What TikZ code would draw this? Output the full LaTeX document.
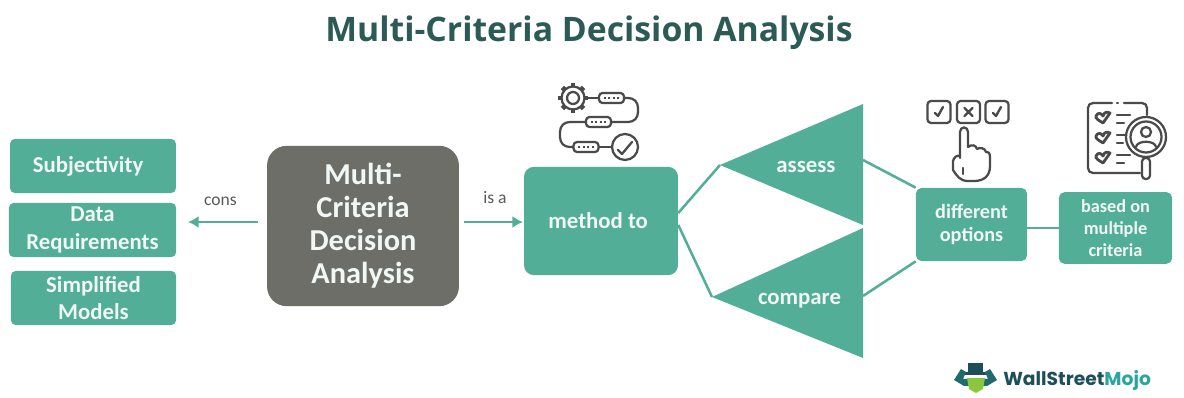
\documentclass[tikz,border=0pt]{standalone}
\usepackage{fontspec}
\setmainfont{Carlito}
\newfontfamily\titlefont{Open Sans}
\newfontfamily\logofont{Poppins}
\definecolor{teal1}{HTML}{53AE98}
\definecolor{gray1}{HTML}{6E6E68}
\definecolor{ink1}{HTML}{4A4A4A}
\definecolor{title1}{HTML}{2C5A55}
\definecolor{text1}{HTML}{F0F7F4}
\definecolor{logo1}{HTML}{1D4F5A}
\definecolor{logo2}{HTML}{2AA5A0}
\definecolor{logo3}{HTML}{8CC63F}
\tikzset{
	box/.style={fill=teal1,rounded corners=3.5pt,inner sep=0pt,align=center,text=text1,font=\fontsize{16.2}{19.7}\selectfont\bfseries},
	wire/.style={draw=teal1,line width=1.8pt},
	tip/.style={wire,line width=2pt,-{Latex[length=7.5pt,width=8.5pt]}},
	tag/.style={inner sep=0pt,text=gray!70!black,font=\fontsize{12.5}{14}\selectfont},
	tri/.style={fill=teal1},
	ink/.style={draw=ink1,line width=1.6pt,line cap=round,line join=round,fill=none},
	pill/.style={ink,rounded corners=2.5pt},
}
\usetikzlibrary{arrows.meta}
\begin{document}
\begin{tikzpicture}[x=0.025cm,y=-0.025cm]
	\useasboundingbox (0,0) rectangle (1184,398);
	\node[text=title1,inner sep=0pt,font=\titlefont\fontsize{24}{28}\selectfont\bfseries] (title) at (589,33) {Multi-Criteria Decision Analysis};

	% left column
	\node[box,minimum width=118pt,minimum height=38.5pt] (subj) at (93,166) {\raisebox{-3.5pt}{Subjectivity}\hspace*{7pt}};
	\node[box,minimum width=119pt,minimum height=38.5pt] (data) at (92.5,230) {Data\\Requirements};
	\node[box,minimum width=117.5pt,minimum height=38.5pt] (simp) at (93.5,298) {Simplified\\Models};

	\node[box,fill=gray1,rounded corners=14pt,minimum width=136.5pt,minimum height=114pt,font=\fontsize{21.6}{23.5}\selectfont\bfseries] (mcda) at (363,226) {Multi-\\Criteria\\Decision\\Analysis};
	\node[box,rounded corners=7pt,minimum width=109.5pt,minimum height=77pt,font=\fontsize{16.2}{19}\selectfont\bfseries] (method) at (601,221) {\raisebox{-1pt}{method to}\hspace*{4pt}};

	\coordinate (gapl) at (188,222);
	\coordinate (gapr) at (523,222);
	\draw[tip] (258,222) -- (gapl);
	\draw[tip] (464,222) -- (gapr);
	\node[tag] (cons) at (220.5,201) {cons};
	\node[tag] (isa) at (495,198) {is a};

	% triangles
	\coordinate (a1) at (720,165);
	\coordinate (c1) at (712,297);
	\fill[tri] (a1) -- (863,104) -- (863,225) -- cycle;
	\fill[tri] (c1) -- (863,228) -- (863,358) -- cycle;
	\node[box,fill=none] (assess) at (806,167) {assess};
	\node[box,fill=none] (compare) at (799.5,301) {compare};

	\node[box,rounded corners=4pt,minimum width=79pt,minimum height=52pt,font=\fontsize{14.4}{17}\selectfont\bfseries] (options) at (971.5,224.5) {\raisebox{-1.5pt}{different}\\\raisebox{-1.5pt}{options}};
	\node[box,rounded corners=4pt,minimum width=80.5pt,minimum height=51pt,font=\fontsize{13}{15.6}\selectfont\bfseries] (based) at (1115.5,228) {based on\\multiple\\criteria};

	\draw[wire] (method.east) ++(0,-8) -- (a1);
	\draw[wire] (method.east) ++(0,4) -- (c1);
	\draw[wire] (863,160) -- (options.north west);
	\draw[wire] (863,296) -- (options.south west);
	\draw[wire] (options.east |- based.center) -- (based.west);

	% process icon
	\foreach \px/\py in {611.5/98,598.5/122,586/147}
		\draw[pill] (\px-12.5,\py-5) rectangle (\px+12.5,\py+5);
	\foreach \px/\py in {611.5/98,598.5/122,586/147}
		\foreach \d in {-7,-2.5,2,6.5}
			\fill[ink1] (\px+\d-1,\py-1) rectangle (\px+\d+1,\py+1);
	\foreach \a in {0,45,...,315}
		\draw[ink1,line width=3.5pt] (573,98) ++(\a:11) -- ++(\a:4);
	\draw[ink,fill=white] (573,98) circle (11.5);
	\draw[ink] (573,98) circle (6);
	\draw[ink] (588,98) -- (599,98);
	\draw[ink] (624,98) -- (628,98) .. controls (634,98) and (638,102) .. (638,108) -- (638,112) .. controls (638,118) and (634,122) .. (628,122) -- (611,122);
	\draw[ink] (586,122) -- (570,122) .. controls (564,122) and (560,126) .. (560,132) -- (560,137) .. controls (560,143) and (564,147) .. (570,147) -- (573,147);
	\draw[ink] (599,147) -- (612,147);
	\draw[ink] (625,147) circle (13);
	\draw[ink] (618,150) -- (622,154) -- (632,142);

	% choice icon
	\foreach \px in {939,968.5,997}
		\draw[pill] (\px-11.5,101) rectangle (\px+11.5,123);
	\foreach \px in {939,997}
		\draw[ink,line width=1.7pt] (\px-4,113) -- (\px-1,116) -- (\px+4,107);
	\draw[ink,line width=1.7pt] (964.5,108) -- (972.5,116) (972.5,108) -- (964.5,116);
	\draw[ink] (960,158) -- (960,132) .. controls (960,126) and (968,126) .. (968,132) -- (968,147)
		.. controls (972,144) and (976,145) .. (977,149) .. controls (980,147) and (985,148) .. (986,152)
		.. controls (988,151) and (990,153) .. (990,157) -- (990,166) .. controls (990,176) and (984,181) .. (974,181)
		-- (968,181) .. controls (960,181) and (957,176) .. (953,170) -- (953,161) .. controls (954,157) and (957,155) .. (960,156);
	\draw[ink] (963,168) -- (963,174);

	% review icon
	\draw[ink] (1112,103) -- (1093,103) .. controls (1090,103) and (1088,105) .. (1088,108) -- (1088,168) .. controls (1088,171) and (1090,173) .. (1093,173) -- (1140,173);
	\draw[ink] (1117,103) -- (1118,103);
	\draw[ink] (1124,103) -- (1142,103) .. controls (1145,103) and (1147,105) .. (1147,108) -- (1147,115);
	\foreach \py in {118,138,158}
		\draw[ink,line width=2pt] (1103,\py+5) -- (1110,\py-5) .. controls (1106,\py-7) and (1104,\py-5) .. (1103,\py-2) .. controls (1101,\py-5) and (1098,\py-6) .. (1096,\py-2) .. controls (1095,\py) and (1098,\py+2) .. (1103,\py+5);
	\foreach \py/\lx in {115/1130,123/1124,135/1126,143/1123,155/1130,163/1124}
		\draw[ink] (1117,\py) -- (\lx,\py);
	\draw[ink] (1146,137) circle (20);
	\draw[ink] (1146,137) circle (15.5);
	\draw[ink] (1146,132) circle (5);
	\draw[ink] (1136,147) .. controls (1137,140) and (1155,140) .. (1156,147);
	\draw[ink,rounded corners=2.5pt] (1142,158) rectangle (1150,179);

	% logo
	\fill[logo1] (968,363) rectangle (983,372);
	\fill[logo1] (962,372) rectangle (989,375);
	\fill[logo1!70!logo2] (954,380) -- (961,369) -- (966,372) -- (963,379) -- (988,379) -- (985,372) -- (990,369) -- (997,380) -- (987,386) -- (964,386) -- cycle;
	\fill[logo3] (967,378) -- (985,378) -- (983,389) -- (976,393) -- (969,389) -- cycle;
	\node[inner sep=0pt,anchor=west,font=\logofont\fontsize{13.3}{16}\selectfont\bfseries] (logo) at (1003,381) {\textcolor{logo1}{WallStreet}\textcolor{logo2}{Mojo}};
\end{tikzpicture}
\end{document}
